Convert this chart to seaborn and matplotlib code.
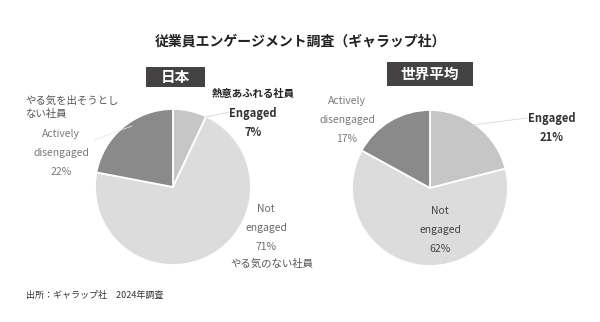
import numpy as np
import seaborn as sns
import matplotlib.pyplot as plt
from matplotlib.patches import Rectangle

# data
categories = ["Engaged", "Not engaged", "Actively disengaged"]
japan_pct = [7, 71, 22]
world_pct = [21, 62, 17]
wedge_colors = ["#c6c6c6", "#dcdcdc", "#8a8a8a"]

title = "従業員エンゲージメント調査（ギャラップ社）"
panel_names = ["日本", "世界平均"]
source = "出所：ギャラップ社　2024年調査"

sns.set_style("white")
plt.rcParams["font.family"] = ["Noto Sans CJK JP", "DejaVu Sans"]

W, H = 600, 322
fig = plt.figure(figsize=(6, 3.22), dpi=100)
ax = fig.add_axes([0, 0, 1, 1])


def py(y):
    # pixel row (from top) -> data y
    return H - y


def lines(x, y0, step, texts, **kw):
    for i, t in enumerate(texts):
        ax.text(x, py(y0 + i * step), t, va="center", **kw)


# pies
for vals, cx, cy in [(japan_pct, 173, 187), (world_pct, 430, 188)]:
    ax.pie(vals, colors=wedge_colors, startangle=90, counterclock=False,
           center=(cx, py(cy)), radius=78,
           wedgeprops=dict(edgecolor="white", linewidth=1.3))

ax.set_xlim(0, W)
ax.set_ylim(0, H)
ax.set_aspect("equal")
ax.axis("off")

# title
ax.text(300, py(42), title, ha="center", va="center", fontsize=10,
        fontweight="bold", color="#222222")

# panel boxes (x0, x1, y0, y1 in pixels)
for name, (x0, x1, y0, y1) in zip(panel_names, [(146, 205, 67, 87),
                                                (387, 473, 62, 86)]):
    ax.add_patch(Rectangle((x0, py(y1)), x1 - x0, y1 - y0,
                           facecolor="#444242", edgecolor="none"))
    ax.text((x0 + x1) / 2, py((y0 + y1) / 2), name, ha="center",
            va="center", fontsize=10.5, fontweight="bold", color="white")

# Japan labels
ax.text(25, py(101), "やる気を出そうとし", ha="left", va="center",
        fontsize=7.5, color="#555555")
ax.text(25, py(114), "ない社員", ha="left", va="center",
        fontsize=7.5, color="#555555")
lines(61, 134, 19, ["Actively", "disengaged", "22%"], ha="center",
      fontsize=7.5, color="#7a7a7a")
ax.text(212, py(94), "熱意あふれる社員", ha="left", va="center",
        fontsize=7.5, fontweight="bold", color="#222222")
lines(253, 113, 19, ["Engaged", "7%"], ha="center", fontsize=8,
      fontweight="bold", color="#333333")
lines(266, 209, 19, ["Not", "engaged", "71%"], ha="center",
      fontsize=7.5, color="#6a6a6a")
ax.text(230, py(264), "やる気のない社員", ha="left", va="center",
        fontsize=7.5, color="#555555")

# World labels
lines(347, 101, 19, ["Actively", "disengaged", "17%"], ha="center",
      fontsize=7.5, color="#7a7a7a")
lines(552, 118, 19, ["Engaged", "21%"], ha="center", fontsize=8,
      fontweight="bold", color="#333333")
lines(440, 211, 19, ["Not", "engaged", "62%"], ha="center",
      fontsize=7.5, color="#444444")

# leader lines
for (x0, y0), (x1, y1), c in [((206, 117), (230, 112), "#d8d8d8"),
                              ((473, 125), (527, 118), "#d8d8d8"),
                              ((94, 140), (132, 126), "#e6e6e6")]:
    ax.plot([x0, x1], [py(y0), py(y1)], color=c, lw=0.6)

# source
ax.text(26, py(295), source, ha="left", va="center", fontsize=6.5,
        color="#333333")

fig.savefig("out.png", dpi=100)
